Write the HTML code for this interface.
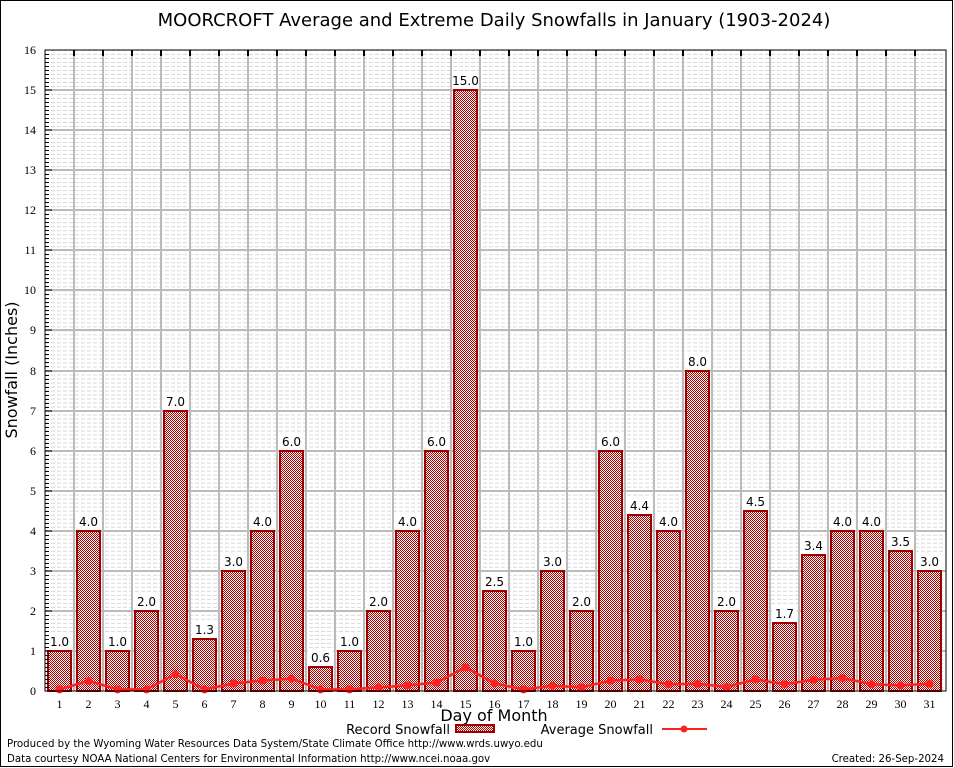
<!DOCTYPE html>
<html><head><meta charset="utf-8">
<style>
html,body{margin:0;padding:0;background:#fff;}
svg{display:block;font-family:"DejaVu Sans","Liberation Sans",sans-serif;}
.tick{font-family:"Liberation Serif",serif;font-size:12px;fill:#000;}
.val{font-family:"DejaVu Sans",sans-serif;font-size:12px;fill:#000;}
</style></head>
<body>
<svg id="chart" width="954" height="768" viewBox="0 0 954 768" xmlns="http://www.w3.org/2000/svg" shape-rendering="crispEdges">
<defs>
<pattern id="chk" width="2" height="2" patternUnits="userSpaceOnUse">
<rect width="2" height="2" fill="#fff"/><rect width="1" height="1" fill="#b00000"/><rect x="1" y="1" width="1" height="1" fill="#b00000"/>
</pattern>
<pattern id="minor" width="6" height="4.00625" patternUnits="userSpaceOnUse" x="45" y="50">
<rect width="4" height="1" y="0" fill="#d4d4d4"/>
</pattern>
</defs>
<rect x="0.5" y="0.5" width="952" height="766" fill="#fff" stroke="#000"/>
<text x="494" y="26" font-size="18" text-anchor="middle" shape-rendering="auto">MOORCROFT Average and Extreme Daily Snowfalls in January (1903-2024)</text>
<rect x="45" y="50" width="901" height="641" fill="url(#minor)"/>
<g id="grid"></g>
<g id="bars"></g>
<g id="avg" shape-rendering="auto"></g>
<rect x="45" y="50" width="901" height="641" fill="none" stroke="#000" stroke-width="1"/>
<g id="axes"></g>
<text transform="translate(17,370) rotate(-90)" font-size="16" text-anchor="middle">Snowfall (Inches)</text>
<text x="494" y="721" font-size="16" text-anchor="middle">Day of Month</text>
<g>
<text x="450" y="734" font-size="13" text-anchor="end">Record Snowfall</text>
<rect x="456" y="725" width="38" height="7" fill="url(#chk)" stroke="#a00000" stroke-width="2"/>
<text x="653" y="734" font-size="13" text-anchor="end">Average Snowfall</text>
<line x1="662" y1="729" x2="707" y2="729" stroke="#ff2020" stroke-width="2"/>
<circle cx="684" cy="729" r="3.5" fill="#ff2020" shape-rendering="auto"/>
</g>
<text x="7" y="747" font-size="10.2">Produced by the Wyoming Water Resources Data System/State Climate Office http://www.wrds.uwyo.edu</text>
<text x="7" y="762" font-size="10.2">Data courtesy NOAA National Centers for Environmental Information http://www.ncei.noaa.gov</text>
<text x="944" y="762" font-size="10.2" text-anchor="end">Created: 26-Sep-2024</text>
</svg>
<script>
const days = [1,2,3,4,5,6,7,8,9,10,11,12,13,14,15,16,17,18,19,20,21,22,23,24,25,26,27,28,29,30,31];
const recordSnow = [1.0,4.0,1.0,2.0,7.0,1.3,3.0,4.0,6.0,0.6,1.0,2.0,4.0,6.0,15.0,2.5,1.0,3.0,2.0,6.0,4.4,4.0,8.0,2.0,4.5,1.7,3.4,4.0,4.0,3.5,3.0];
const avgSnow = [0.04,0.25,0.04,0.04,0.42,0.04,0.19,0.26,0.31,0.04,0.04,0.09,0.14,0.21,0.59,0.19,0.04,0.13,0.09,0.26,0.29,0.17,0.18,0.10,0.29,0.17,0.28,0.32,0.17,0.14,0.18];
const yTicks = [0,1,2,3,4,5,6,7,8,9,10,11,12,13,14,15,16];

const NS = "http://www.w3.org/2000/svg";
const L = 45, R = 944, T = 50, B = 691, yMax = 16;
const slot = (R - L) / days.length;
function xPos(d){ return L + (d - 0.5) * slot; }
function yPos(v){ return B - v / yMax * (B - T); }
function mk(tag, attrs, parent){
  const e = document.createElementNS(NS, tag);
  for (const k in attrs) e.setAttribute(k, attrs[k]);
  parent.appendChild(e); return e;
}
const grid = document.getElementById('grid');
const axes = document.getElementById('axes');
yTicks.forEach(t => {
  const y = Math.round(yPos(t));
  if (t > 0 && t < yMax) {
    const g = mk('line', {x1:L, x2:946, y1:y, y2:y, stroke:'#bbb', 'stroke-width':2}, grid);
    
    
  }
  const tk = mk('line', {x1:L, x2:L+7, y1:y, y2:y, stroke:'#000'}, axes);
  
  
  const lb = mk('text', {x:36, y:y+4, class:'tick', 'text-anchor':'end'}, axes);
  lb.textContent = t;
  
  
  for (let m = 1; m < 10 && t < yMax; m++) {
    const ym = Math.round(yPos(t + m * 0.1)) + 0.5;
    const mt = mk('line', {x1:L, x2:L+4, y1:ym, y2:ym, stroke:'#000'}, axes);
    
    
  }
});
days.forEach((d, i) => {
  const xb = Math.round(L + i * slot);
  if (i > 0) {
    const g = mk('line', {x1:xb, x2:xb, y1:T, y2:B, stroke:'#bbb', 'stroke-width':2}, grid);
    
    
    const tk = mk('line', {x1:xb, x2:xb, y1:T, y2:T+6, stroke:'#000', 'stroke-width':2}, axes);
    
    
  }
  const lb = mk('text', {x:xPos(d), y:708, class:'tick', 'text-anchor':'middle'}, axes);
  lb.textContent = d;
  
  
});
const bars = document.getElementById('bars');
days.forEach((d, i) => {
  const v = recordSnow[i];
  const bw = 23;
  const x0 = Math.round(xPos(d) - bw / 2), y0 = Math.round(yPos(v));
  const r = mk('rect', {x:x0, y:y0, width:bw, height:B - y0, fill:'url(#chk)', stroke:'#a00000', 'stroke-width':2}, bars);
  
  
  const bg = mk('rect', {x:xPos(d)-13, y:y0-17, width:26, height:14, fill:'#fff'}, bars);
  
  
  const t = mk('text', {x:xPos(d), y:y0-5, class:'val', 'text-anchor':'middle'}, bars);
  t.textContent = v.toFixed(1);
  
  
});
const avg = document.getElementById('avg');
const pts = days.map((d, i) => xPos(d) + ',' + yPos(avgSnow[i])).join(' ');
const pl = mk('polyline', {points:pts, fill:'none', stroke:'#ff2020', 'stroke-width':2.5}, avg);


days.forEach((d, i) => {
  const c = mk('circle', {cx:xPos(d), cy:yPos(avgSnow[i]), r:4, fill:'#ff2020'}, avg);
  
  
});
</script>
</body></html>
